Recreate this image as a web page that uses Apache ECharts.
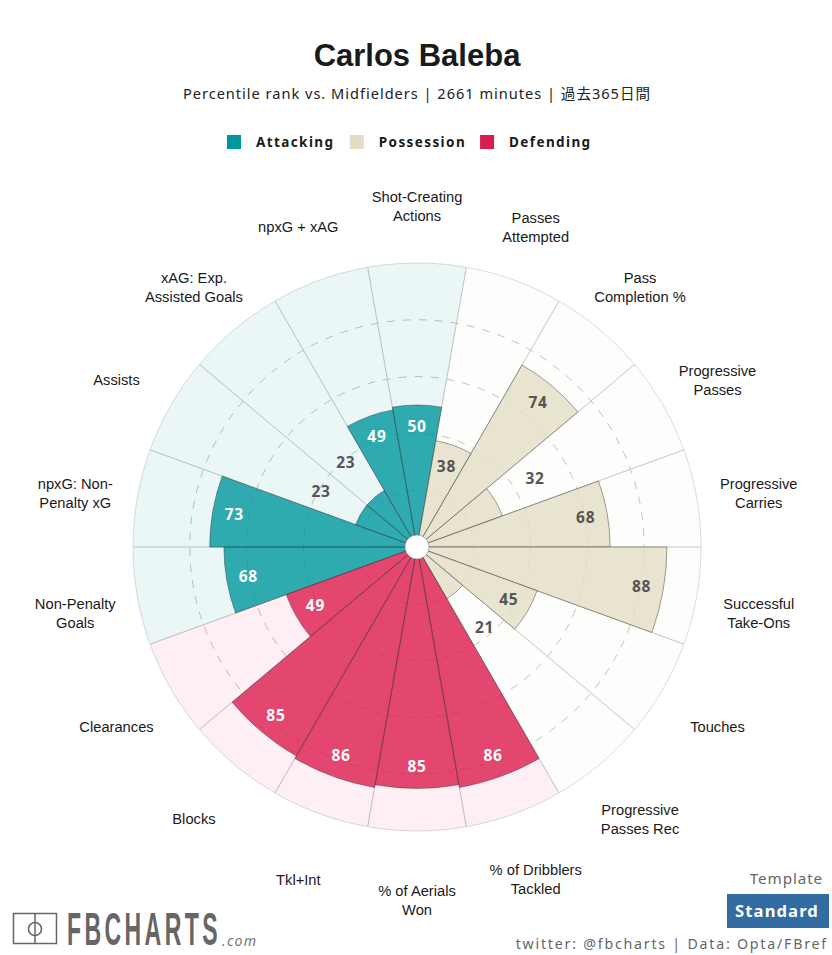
<!DOCTYPE html>
<html>
<head>
<meta charset="utf-8">
<style>
html,body{margin:0;padding:0;background:#fff;}
#chart{width:832px;height:955px;}
text[style*="14.6px"]{letter-spacing:0.98px;}
text[style*="13.5px"]{letter-spacing:1.4px;}
text[style*="14.2px"]{letter-spacing:1.78px;}
text[style*="15.2px"]{letter-spacing:0.9px;}
text[style*="16.6px"]{letter-spacing:1.1px;}
text[style*="14.1px"]{letter-spacing:1.3px;}
text[style*="46.1px"]{letter-spacing:6.8px;}
text[style*="15.5px"]{letter-spacing:0.7px;}
</style>
<script src="https://cdn.jsdelivr.net/npm/echarts@6/dist/echarts.min.js"></script>
</head>
<body>
<div id="chart"></div>
<script>
const categories = ["Shot-Creating\nActions","Passes\nAttempted","Pass\nCompletion %","Progressive\nPasses","Progressive\nCarries","Successful\nTake-Ons","Touches","Progressive\nPasses Rec","% of Dribblers\nTackled","% of Aerials\nWon","Tkl+Int","Blocks","Clearances","Non-Penalty\nGoals","npxG: Non-\nPenalty xG","Assists","xAG: Exp.\nAssisted Goals","npxG + xAG"];
const values = [50,38,74,32,68,88,45,21,86,85,86,85,49,68,73,23,23,49];
const groups = ["Attacking","Possession","Possession","Possession","Possession","Possession","Possession","Possession","Defending","Defending","Defending","Defending","Defending","Attacking","Attacking","Attacking","Attacking","Attacking"];
const groupNames = ["Attacking","Possession","Defending"];
const groupColors = {Attacking:"#00979c",Possession:"#e2ddc6",Defending:"#dc1c4e"};
const backgroundOpacity = {Attacking:0.08,Possession:0.07,Defending:0.07};
const labelColors = {Attacking:"#ffffff",Possession:"#555555",Defending:"#ffffff"};
const outsideThreshold = 35;
const insideOffset = -7.7, outsideOffset = 16;

const chart = echarts.init(document.getElementById("chart"), null, {renderer:"svg"});
const UI = "'Noto Sans'";
const angle = (i)=>({type:"category",polarIndex:i,data:categories,startAngle:100,clockwise:true,boundaryGap:true,
  axisLabel:{show:false},axisTick:{show:false},
  axisLine:{show:i===0,lineStyle:{color:"#dcdcdc",width:1}},
  splitLine:{show:i===0,lineStyle:{color:"#c2c6c6",width:1}}});

const series = [];
series.push({type:"bar",name:"background",coordinateSystem:"polar",polarIndex:0,barCategoryGap:"0%",barGap:"-100%",z:1,silent:true,
  data:categories.map((c,i)=>({value:100,itemStyle:{color:groupColors[groups[i]],opacity:backgroundOpacity[groups[i]]}}))});
groupNames.forEach(g=>{
  series.push({type:"bar",name:g,coordinateSystem:"polar",polarIndex:0,barCategoryGap:"0%",barGap:"-100%",z:2,silent:true,
    itemStyle:{color:groupColors[g],opacity:0.8,borderColor:"rgba(60,60,60,0.6)",borderWidth:1},
    data:values.map((v,i)=>groups[i]===g?v:null)});
});
series.push({type:"scatter",name:"values",coordinateSystem:"polar",polarIndex:0,z:5,symbolSize:1,clip:false,silent:true,
  itemStyle:{color:"transparent",opacity:1},
  data:values.map((v,i)=>{
    const out=v<outsideThreshold;
    return {value:[v+(out?outsideOffset:insideOffset),i],
      label:{show:true,position:"inside",offset:[0,-0.5],formatter:String(v),fontFamily:UI,fontWeight:"bold",fontSize:15.5,
        color:out?"#555555":labelColors[groups[i]]}};
  })});
series.push({type:"scatter",name:"hub",coordinateSystem:"polar",polarIndex:0,z:6,symbolSize:24,clip:false,silent:true,
  itemStyle:{color:"#ffffff",opacity:1,borderColor:"#777777",borderWidth:0.5},data:[[0,0]]});
series.push({type:"scatter",name:"categories",coordinateSystem:"polar",polarIndex:1,z:5,symbolSize:1,clip:false,silent:true,
  itemStyle:{color:"transparent",opacity:1},
  data:categories.map((c,i)=>({value:[100,i],
    label:{show:true,position:"inside",offset:[0,-0.5],formatter:c,fontFamily:"'Liberation Sans'",fontSize:14.7,lineHeight:19,color:"#1a1a1a"}}))});

chart.setOption({
  animation:false,
  backgroundColor:"#ffffff",
  title:[
    {text:"Carlos Baleba",left:412,top:35,textAlign:"center",textStyle:{fontFamily:"'Liberation Sans'",fontWeight:"bold",fontSize:31,color:"#1a1a1a"}},
    {text:"Percentile rank vs. Midfielders | 2661 minutes | 過去365日間",left:412,top:81,textAlign:"center",textStyle:{fontFamily:UI+",'Noto Sans CJK JP'",fontWeight:"normal",fontSize:14.6,color:"#222222"}}
  ],
  legend:{data:groupNames,top:130,left:222,itemWidth:14,itemHeight:14,itemGap:28,icon:"rect",selectedMode:false,
    itemStyle:{opacity:1,borderWidth:0},
    textStyle:{fontFamily:UI,fontWeight:"bold",fontSize:13.5,color:"#1a1a1a",padding:[0,0,0,10]}},
  polar:[{center:[417,547],radius:284},{center:[417,554],radius:347}],
  angleAxis:[angle(0),angle(1)],
  radiusAxis:[
    {polarIndex:0,type:"value",min:0,max:100,interval:20,axisLine:{show:false},axisTick:{show:false},axisLabel:{show:false},
      splitLine:{show:true,lineStyle:{color:["transparent","#bfc3c3","#bfc3c3","#bfc3c3","#bfc3c3","transparent"],type:[8,8],width:1}}},
    {polarIndex:1,type:"value",min:0,max:100,axisLine:{show:false},axisTick:{show:false},axisLabel:{show:false},splitLine:{show:false}}
  ],
  series,
  graphic:[
    {type:"rect",shape:{x:13.5,y:913.5,width:43,height:30},style:{fill:"none",stroke:"#666",lineWidth:1.5}},
    {type:"line",shape:{x1:35,y1:913.5,x2:35,y2:943.5},style:{stroke:"#666",lineWidth:1.5}},
    {type:"circle",shape:{cx:35,cy:929,r:6.5},style:{fill:"none",stroke:"#666",lineWidth:1.5}},
    {type:"text",x:67,y:929,scaleX:0.5,style:{text:"FBCHARTS",fontFamily:"'Liberation Sans'",fontWeight:"bold",fontSize:46.1,fill:"#666",textAlign:"left",textVerticalAlign:"middle"}},
    {type:"text",x:222,y:940,style:{text:".com",fontFamily:UI,fontStyle:"italic",fontSize:14.1,fill:"#777",textAlign:"left",textVerticalAlign:"middle"}},
    {type:"text",x:823,y:878,style:{text:"Template",fontFamily:UI,fontSize:15.2,fill:"#666",textAlign:"right",textVerticalAlign:"middle"}},
    {type:"rect",shape:{x:727,y:894,width:102,height:34},style:{fill:"#336ba3"}},
    {type:"text",x:777,y:910,style:{text:"Standard",fontFamily:UI,fontWeight:"bold",fontSize:16.6,fill:"#fff",textAlign:"center",textVerticalAlign:"middle"}},
    {type:"text",x:828,y:943,style:{text:"twitter: @fbcharts | Data: Opta/FBref",fontFamily:UI,fontSize:14.2,fill:"#666",textAlign:"right",textVerticalAlign:"middle"}}
  ]
});
</script>
</body>
</html>
